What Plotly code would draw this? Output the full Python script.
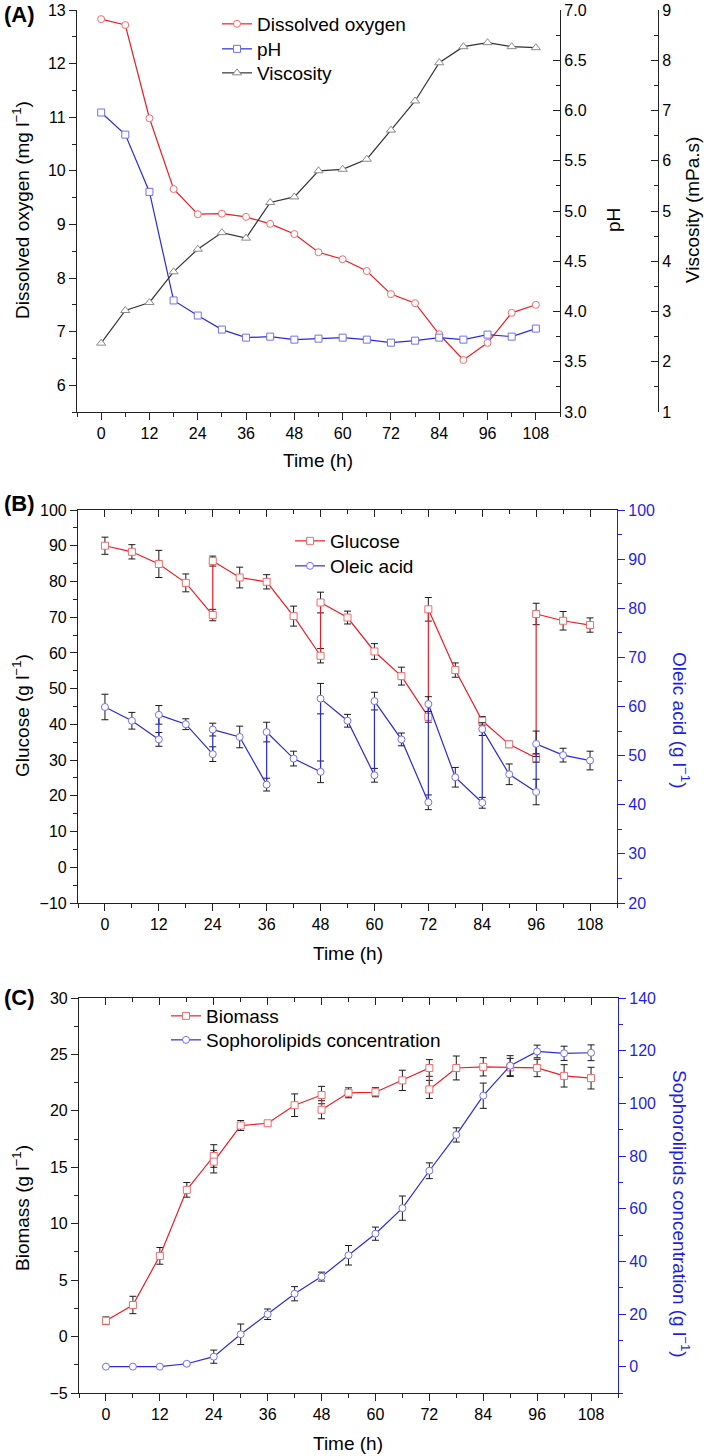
import plotly.graph_objects as go

W, H = 709, 1456

# ---------------- Panel A data ----------------
time_a = [0, 6, 12, 18, 24, 30, 36, 42, 48, 54, 60, 66, 72, 78, 84, 90, 96, 102, 108]
dissolved_oxygen = [12.83, 12.72, 10.98, 9.66, 9.19, 9.20, 9.14, 9.01, 8.82, 8.48, 8.35,
                    8.13, 7.70, 7.53, 6.95, 6.47, 6.79, 7.35, 7.50]
ph_vals = [5.98, 5.76, 5.19, 4.11, 3.96, 3.82, 3.74, 3.75, 3.72, 3.73, 3.74, 3.72, 3.69,
           3.71, 3.74, 3.72, 3.77, 3.75, 3.83]
viscosity = [2.37, 3.02, 3.18, 3.79, 4.24, 4.57, 4.46, 5.17, 5.28, 5.80, 5.83, 6.03, 6.61,
             7.19, 7.95, 8.27, 8.35, 8.27, 8.25]

# ---------------- Panel B data ----------------
time_glucose = [0, 6, 12, 18, 24, 24, 30, 36, 42, 48, 48, 54, 60, 66, 72, 72, 78, 84, 90,
                96, 96, 102, 108]
glucose = [90.0, 88.3, 84.9, 79.6, 70.6, 85.7, 81.1, 79.9, 70.3, 59.2, 74.1, 69.9, 60.4,
           53.5, 42.1, 72.2, 55.2, 41.0, 34.4, 30.6, 70.9, 69.0, 67.8]
glucose_sd = [2.4, 2.0, 3.8, 2.5, 1.6, 1.4, 2.9, 2.0, 2.8, 2.0, 2.9, 1.8, 2.2, 2.5, 1.5,
              3.3, 2.0, 1.2, 0.9, 1.2, 3.0, 2.6, 2.0]
time_oleic = [0, 6, 12, 12, 18, 24, 24, 30, 36, 36, 42, 48, 48, 54, 60, 60, 66, 72, 72, 78,
              84, 84, 90, 96, 96, 102, 108]
oleic = [59.9, 57.1, 53.3, 58.3, 56.4, 50.3, 55.3, 53.8, 44.1, 54.8, 49.4, 46.7, 61.6, 57.1,
         46.0, 61.1, 53.3, 40.5, 60.5, 45.6, 40.4, 55.4, 46.2, 42.6, 52.4, 50.1, 49.0]
oleic_sd = [2.6, 1.7, 1.4, 1.9, 1.1, 1.5, 1.3, 2.2, 1.3, 2.0, 1.5, 2.2, 3.1, 1.3, 1.4, 1.8,
            1.3, 1.5, 1.5, 2.0, 1.1, 1.3, 2.1, 2.6, 2.6, 1.4, 1.9]

# ---------------- Panel C data ----------------
time_biomass = [0, 6, 12, 18, 24, 24, 30, 36, 42, 48, 48, 54, 60, 66, 72, 72, 78, 84, 90,
                96, 102, 108]
biomass = [1.4, 2.8, 7.15, 13.0, 16.0, 15.5, 18.7, 18.9, 20.5, 21.4, 20.1, 21.6, 21.65, 22.7,
           23.8, 21.9, 23.8, 23.9, 23.85, 23.8, 23.1, 22.9]
biomass_sd = [0.34, 0.77, 0.74, 0.65, 1.0, 1.0, 0.44, 0.22, 1.0, 0.77, 0.8, 0.44, 0.4, 0.9,
              0.74, 0.8, 1.06, 0.81, 0.8, 0.77, 0.99, 0.96]
time_soph = [0, 6, 12, 18, 24, 30, 36, 42, 48, 54, 60, 66, 72, 78, 84, 90, 96, 102, 108]
sophorolipids = [0, 0, 0, 1.1, 3.8, 12.3, 19.9, 27.7, 34.2, 42.3, 50.5, 60.2, 74.4, 88.0,
                 102.9, 114.3, 119.7, 119.0, 119.2]
sophorolipids_sd = [0, 0, 0, 0.5, 2.5, 3.9, 2.0, 2.7, 1.7, 3.7, 2.5, 4.6, 3.0, 2.7, 4.8,
                    3.8, 2.4, 2.7, 3.0]

# ---------------- styling ----------------
FONT = "Liberation Sans, Arial, sans-serif"
RED = "#ee1c24"
RED_M = "#f26b6b"
BLUE = "#2b2bd6"
BLUE_M = "#7070f0"
AXBLUE = "#1f1fe0"
GRAY = "#333333"
GRAY_M = "#8a8a8a"
AX = "#222222"
TICKF = 16
TITLEF = 19
LEGF = 19


def px(x):
    return x / W


def py(y):
    return 1 - y / H


ebar = dict(type="data", color="#1a1a1a", thickness=1, width=3.5, visible=True)

fig = go.Figure()

# Panel A
fig.add_trace(go.Scatter(x=time_a, y=dissolved_oxygen, name="Dissolved oxygen", mode="lines+markers",
                         line=dict(color=RED, width=1.2),
                         marker=dict(symbol="circle", size=7, color="white", line=dict(color=RED_M, width=1)),
                         xaxis="x", yaxis="y", legend="legend"))
fig.add_trace(go.Scatter(x=time_a, y=ph_vals, name="pH", mode="lines+markers",
                         line=dict(color=BLUE, width=1.2),
                         marker=dict(symbol="square", size=7, color="white", line=dict(color=BLUE_M, width=1)),
                         xaxis="x", yaxis="y2", legend="legend2"))
fig.add_trace(go.Scatter(x=time_a, y=viscosity, name="Viscosity", mode="lines+markers",
                         line=dict(color=GRAY, width=1.2),
                         marker=dict(symbol="triangle-up", size=8, color="white", line=dict(color=GRAY_M, width=1)),
                         xaxis="x", yaxis="y3", legend="legend3"))

# Panel B
fig.add_trace(go.Scatter(x=time_glucose, y=glucose, name="Glucose", mode="lines+markers",
                         line=dict(color=RED, width=1.2),
                         marker=dict(symbol="square", size=7, color="white", line=dict(color=RED_M, width=1)),
                         error_y=dict(array=glucose_sd, **ebar),
                         xaxis="x2", yaxis="y4", legend="legend4"))
fig.add_trace(go.Scatter(x=time_oleic, y=oleic, name="Oleic acid", mode="lines+markers",
                         line=dict(color=BLUE, width=1.2),
                         marker=dict(symbol="circle", size=7, color="white", line=dict(color=BLUE_M, width=1)),
                         error_y=dict(array=oleic_sd, **ebar),
                         xaxis="x2", yaxis="y5", legend="legend5"))
fig.add_trace(go.Scatter(x=[None], y=[None], xaxis="x3", yaxis="y4", showlegend=False, hoverinfo="skip"))

# Panel C
fig.add_trace(go.Scatter(x=time_biomass, y=biomass, name="Biomass", mode="lines+markers",
                         line=dict(color=RED, width=1.2),
                         marker=dict(symbol="square", size=7, color="white", line=dict(color=RED_M, width=1)),
                         error_y=dict(array=biomass_sd, **ebar),
                         xaxis="x4", yaxis="y6", legend="legend6"))
fig.add_trace(go.Scatter(x=time_soph, y=sophorolipids, name="Sophorolipids concentration", mode="lines+markers",
                         line=dict(color=BLUE, width=1.2),
                         marker=dict(symbol="circle", size=7, color="white", line=dict(color=BLUE_M, width=1)),
                         error_y=dict(array=sophorolipids_sd, **ebar),
                         xaxis="x4", yaxis="y7", legend="legend7"))
fig.add_trace(go.Scatter(x=[None], y=[None], xaxis="x5", yaxis="y6", showlegend=False, hoverinfo="skip"))


def xax(domain, anchor, labels=True, side="bottom", ticks="outside", overlay=None):
    d = dict(domain=domain, anchor=anchor, range=[-6, 114], tick0=0, dtick=12, side=side,
             showline=True, linecolor=AX, linewidth=1.2, ticks=ticks, ticklen=7, tickwidth=1.2,
             tickcolor=AX, showgrid=False, zeroline=False, showticklabels=labels, automargin=False,
             tickfont=dict(family=FONT, size=TICKF, color="black"),
             minor=dict(dtick=6, tick0=0, ticks=ticks, ticklen=4, tickwidth=1.2, tickcolor=AX))
    if overlay:
        d["overlaying"] = overlay
    return d


def yax(domain, rng, dtick, minor, anchor, side="left", ticks="outside", color=AX, fcolor="black",
        overlay=None, position=None, fmt=None):
    d = dict(range=rng, tick0=0, dtick=dtick, side=side, showline=True, linecolor=color,
             linewidth=1.2, ticks=ticks, ticklen=7, tickwidth=1.2, tickcolor=color,
             showgrid=False, zeroline=False, anchor=anchor, automargin=False,
             tickfont=dict(family=FONT, size=TICKF, color=fcolor),
             minor=dict(dtick=minor, tick0=0, ticks=ticks, ticklen=4, tickwidth=1.2, tickcolor=color))
    if domain is not None:
        d["domain"] = domain
    if overlay:
        d["overlaying"] = overlay
    if position is not None:
        d["position"] = position
    if fmt:
        d["tickformat"] = fmt
    return d


domA_x = [px(77), px(560)]
domA_y = [py(412), py(10)]
domB_x = [px(78), px(617)]
domB_y = [py(903), py(510)]
domC_x = [px(79), px(618)]
domC_y = [py(1393), py(998)]


def leg(x, y):
    return dict(x=px(x), y=py(y), xanchor="left", yanchor="middle", bgcolor="rgba(0,0,0,0)",
                font=dict(family=FONT, size=LEGF, color="black"), tracegroupgap=0)


fig.update_layout(
    width=W, height=H, margin=dict(l=0, r=0, t=0, b=0, autoexpand=False),
    paper_bgcolor="white", plot_bgcolor="white",
    font=dict(family=FONT, color="black"),
    showlegend=True,
    xaxis=xax(domA_x, "y"),
    yaxis=yax(domA_y, [5.5, 13], 1, 0.5, "x"),
    yaxis2=yax(None, [3, 7], 0.5, 0.25, "x", side="right", ticks="inside", overlay="y", fmt=".1f"),
    yaxis3=yax(None, [1, 9], 1, 0.5, "free", side="right", ticks="inside", overlay="y", position=px(658)),
    xaxis2=xax(domB_x, "y4"),
    xaxis3=xax(domB_x, "y4", labels=False, side="top", ticks="inside", overlay="x2"),
    yaxis4=yax(domB_y, [-10, 100], 10, 5, "x2"),
    yaxis5=yax(None, [20, 100], 10, 5, "x2", side="right", color=AXBLUE, fcolor=AXBLUE, overlay="y4"),
    xaxis4=xax(domC_x, "y6"),
    xaxis5=xax(domC_x, "y6", labels=False, side="top", ticks="inside", overlay="x4"),
    yaxis6=yax(domC_y, [-5, 30], 5, 2.5, "x4"),
    yaxis7=yax(None, [-10, 140], 20, 10, "x4", side="right", color=AXBLUE, fcolor=AXBLUE, overlay="y6"),
    legend=leg(217, 24),
    legend2=leg(217, 49),
    legend3=leg(217, 73),
    legend4=leg(290, 541),
    legend5=leg(290, 566),
    legend6=leg(166, 1016),
    legend7=leg(166, 1040),
)


def ann(text, x, y, angle=0, size=TITLEF, color="black", bold=False):
    fig.add_annotation(text=f"<b>{text}</b>" if bold else text, x=px(x), y=py(y), xref="paper", yref="paper",
                       showarrow=False, textangle=angle, xanchor="center", yanchor="middle",
                       font=dict(family=FONT, size=size, color=color))


# Panel A titles
ann("Dissolved oxygen (mg l<sup>−1</sup>)", 21, 210, -90)
ann("pH", 613, 220, -90)
ann("Viscosity (mPa.s)", 693, 210, -90)
ann("Time (h)", 318, 460)
ann("(A)", 19, 15, size=22, bold=True)

# Panel B titles
ann("Glucose (g l<sup>−1</sup>)", 21, 716, -90)
ann("Oleic acid (g l<sup>−1</sup>)", 681, 720, 90, color=AXBLUE)
ann("Time (h)", 348, 953)
ann("(B)", 19, 503, size=22, bold=True)

# Panel C titles
ann("Biomass (g l<sup>−1</sup>)", 21, 1208, -90)
ann("Sophorolipids concentration (g l<sup>−1</sup>)", 681, 1214, 90, color=AXBLUE)
ann("Time (h)", 348, 1443)
ann("(C)", 19, 997, size=22, bold=True)

fig.write_html("out.html", config={"displayModeBar": False},
               post_script="document.body.style.margin='0px';document.body.style.overflow='hidden';")
